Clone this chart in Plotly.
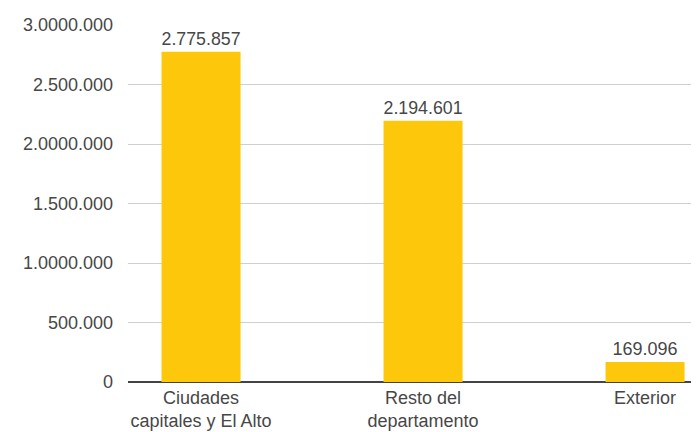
import plotly.graph_objects as go

categories = ["Ciudades<br>capitales y El Alto", "Resto del<br>departamento", "Exterior"]
values = [2775857, 2194601, 169096]
tick_vals = [0, 500000, 1000000, 1500000, 2000000, 2500000, 3000000]
tick_text = ["0", "500.000", "1.0000.000", "1.500.000", "2.0000.000", "2.500.000", "3.0000.000"]

labels = [f"{v:,}".replace(",", ".") for v in values]
xs = list(range(len(categories)))

FONT = "Liberation Sans, Arial, sans-serif"
TXT = "#474747"

fig = go.Figure(go.Bar(
    x=xs, y=values, width=0.356,
    marker=dict(color="#FDC70C", line=dict(width=0)),
    text=labels, textposition="outside", cliponaxis=False,
    textfont=dict(family=FONT, size=18, color=TXT),
))

fig.update_layout(
    width=691, height=424,
    margin=dict(l=120, r=0, t=17, b=50),
    paper_bgcolor="white", plot_bgcolor="white",
    showlegend=False,
    font=dict(family=FONT, size=18, color=TXT),
    xaxis=dict(
        range=[-0.329, 2.243], tickvals=xs, ticktext=categories,
        showgrid=False, zeroline=False, showline=False, ticks="",
        ticklabelstandoff=3, automargin=False,
        tickfont=dict(family=FONT, size=18, color=TXT),
    ),
    yaxis=dict(
        range=[0, 3000000], tickvals=tick_vals, ticktext=tick_text,
        showgrid=True, gridcolor="#cfcfcf", gridwidth=1,
        zeroline=True, zerolinecolor="#444444", zerolinewidth=1.5,
        showline=False, ticks="", ticklabelstandoff=14,
        tickfont=dict(family=FONT, size=18, color=TXT),
    ),
)

fig.write_html("out.html")
